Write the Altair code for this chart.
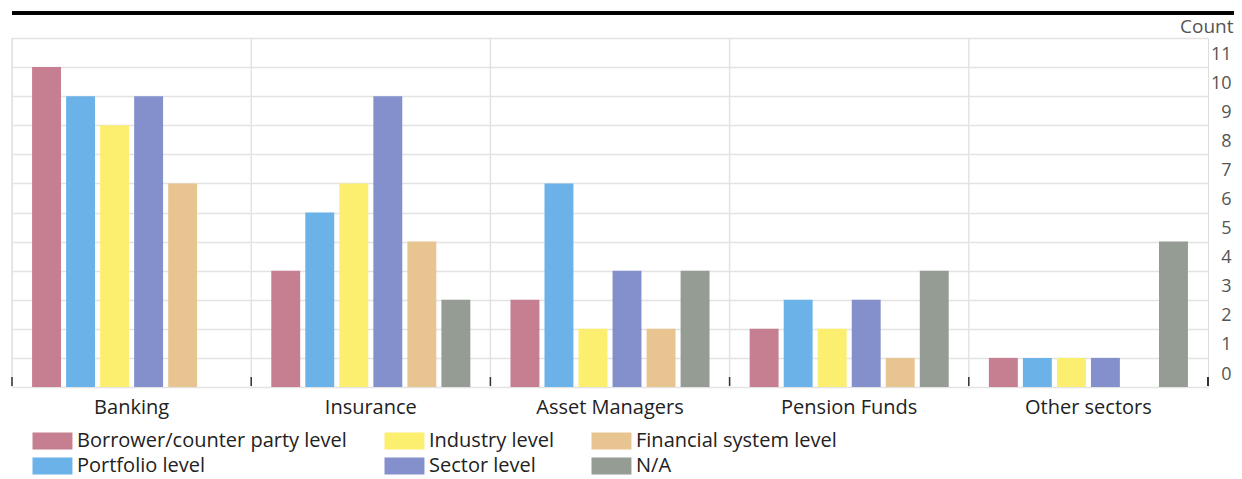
import altair as alt
import pandas as pd

categories = ["Banking", "Insurance", "Asset Managers", "Pension Funds", "Other sectors"]
series = ["Borrower/counter party level", "Portfolio level", "Industry level",
          "Sector level", "Financial system level", "N/A"]
colors = ["#c67f90", "#6ab2e7", "#fcee6e", "#8390cb", "#e8c590", "#949c93"]
values = {
    "Borrower/counter party level": [11, 4, 3, 2, 1],
    "Portfolio level": [10, 6, 7, 3, 1],
    "Industry level": [9, 7, 2, 2, 1],
    "Sector level": [10, 10, 4, 3, 1],
    "Financial system level": [7, 5, 2, 1, 0],
    "N/A": [0, 3, 4, 4, 5],
}
legend_order = ["Borrower/counter party level", "Industry level", "Financial system level",
                "Portfolio level", "Sector level", "N/A"]
y_ticks = list(range(0, 13))

rows = []
for s in series:
    for c, v in zip(categories, values[s]):
        rows.append({"category": c, "series": s, "count": v})
df = pd.DataFrame(rows)
cat_df = pd.DataFrame({"category": categories})

FONT = "Open Sans"
H = 349

xscale = alt.Scale(domain=categories, paddingInner=0, paddingOuter=0)

bars = alt.Chart(df).mark_bar().encode(
    x=alt.X("category:N", scale=xscale, sort=categories,
            axis=alt.Axis(title=None, labelAngle=0, labelAlign="center", labelBaseline="top",
                          labelFontSize=20, labelColor="#222222",
                          labelFont=FONT, ticks=False, domain=False, grid=False,
                          labelPadding=10)),
    xOffset=alt.XOffset("series:N", sort=series,
                        scale=alt.Scale(domain=series, paddingInner=0.15, paddingOuter=0.59)),
    y=alt.Y("count:Q", scale=alt.Scale(domain=[0, 12], nice=False),
            axis=alt.Axis(orient="right", values=y_ticks, title="Count", titleAngle=0,
                          titleX=25, titleY=-12, titleAlign="right", titleBaseline="middle",
                          titleFontSize=19, titleFontWeight="normal", titleColor="#555555",
                          titleFont=FONT,
                          labelExpr="datum.value == 12 ? '' : datum.label",
                          labelFontSize=18, labelColor="#555555", labelFont=FONT,
                          labelAlign="right", labelPadding=23, labelBaseline="middle",
                          labelOffset=-13, ticks=False, domain=False,
                          grid=True, gridColor="#e3e3e3", gridWidth=1.5)),
    color=alt.Color("series:N", scale=alt.Scale(domain=legend_order,
                    range=[colors[series.index(s)] for s in legend_order]),
                    legend=alt.Legend(title=None, orient="none", legendX=19, legendY=393,
                                      columns=3, direction="horizontal",
                                      symbolType="M-1,-1H3.7V1H-1Z", symbolSize=289,
                                      symbolStrokeWidth=0, labelOffset=26,
                                      labelFontSize=20, labelColor="#222222", labelFont=FONT,
                                      columnPadding=36, rowPadding=5, labelLimit=400)),
)

vgrid = alt.Chart(cat_df).mark_rule(color="#e3e3e3", strokeWidth=1.5).encode(
    x=alt.X("category:N", scale=xscale, sort=categories, bandPosition=0),
)

ticks = alt.Chart(cat_df).mark_rule(color="#333333", strokeWidth=1.5).encode(
    x=alt.X("category:N", scale=xscale, sort=categories, bandPosition=0),
    y=alt.value(H - 10), y2=alt.value(H - 1),
)
end_tick = alt.Chart(cat_df).mark_rule(color="#333333", strokeWidth=1.5).encode(
    x=alt.value(1196), y=alt.value(H - 10), y2=alt.value(H - 1),
)
top_line = alt.Chart(cat_df).mark_rule(color="#000000", strokeWidth=3).encode(
    x=alt.value(0), x2=alt.value(1240), y=alt.value(-25),
)

chart = alt.layer(vgrid, bars, ticks, end_tick, top_line).properties(
    width=1196, height=H,
    autosize=alt.AutoSizeParams(type="none"),
    padding={"left": 4, "right": 26, "top": 30, "bottom": 471 - 30 - H},
).configure_view(stroke="#e3e3e3", strokeWidth=1.5).configure(background="white")

chart.save("out.html", embed_options={"renderer": "svg", "actions": False})
